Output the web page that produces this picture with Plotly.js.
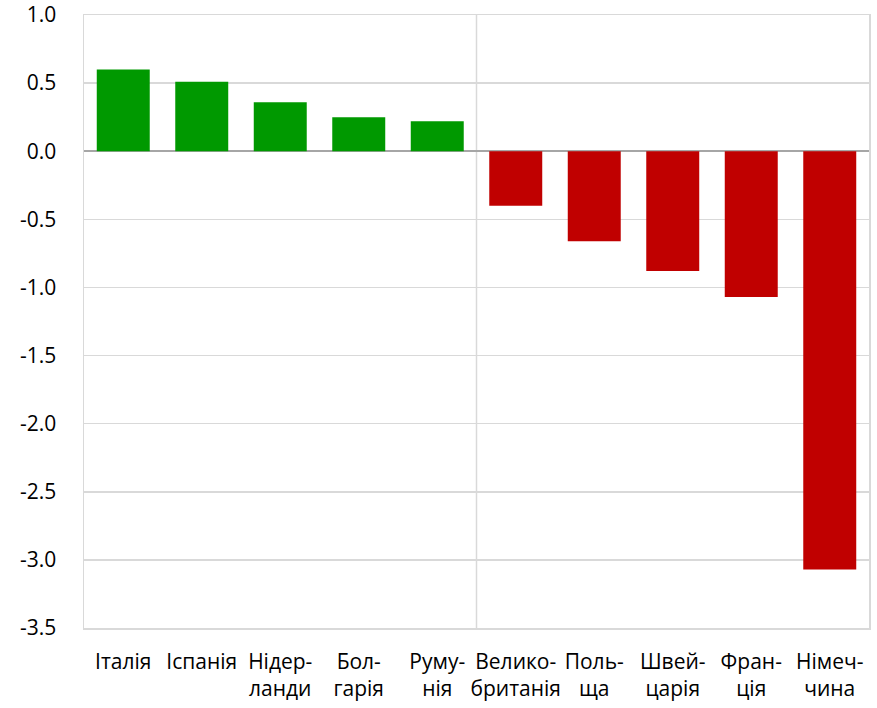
<!DOCTYPE html>
<html>
<head>
<meta charset="utf-8">
<script src="https://cdn.plot.ly/plotly-3.0.1.min.js"></script>
<style>html,body{margin:0;padding:0;background:#fff;}#chart{width:877px;height:708px;}</style>
</head>
<body>
<div id="chart"></div>
<script>
const categories = ["Італія","Іспанія","Нідер-<br>ланди","Бол-<br>гарія","Руму-<br>нія","Велико-<br>британія","Поль-<br>ща","Швей-<br>царія","Фран-<br>ція","Німеч-<br>чина"];
const values = [0.60, 0.51, 0.36, 0.25, 0.22, -0.40, -0.66, -0.88, -1.07, -3.07];
const yTickValues = [1.0, 0.5, 0.0, -0.5, -1.0, -1.5, -2.0, -2.5, -3.0, -3.5];
const yTickLabels = ["1.0", "0.5", "0.0", "-0.5", "-1.0", "-1.5", "-2.0", "-2.5", "-3.0", "-3.5"];
const positiveColor = "#009900";
const negativeColor = "#c00000";

const colors = values.map(v => v >= 0 ? positiveColor : negativeColor);
const fontFam = "'Open Sans', sans-serif";

const trace = {
  type: "bar",
  x: categories,
  y: values,
  marker: {color: colors, line: {width: 0}},
  hoverinfo: "skip"
};

const layout = {
  width: 877, height: 708,
  margin: {l: 84, r: 8, t: 15, b: 80},
  paper_bgcolor: "#fff", plot_bgcolor: "#fff",
  bargap: 0.325,
  showlegend: false,
  font: {family: fontFam, color: "#000"},
  xaxis: {
    type: "category",
    showgrid: false,
    showline: true, linecolor: "#d9d9d9", linewidth: 1.5, mirror: true,
    ticks: "", tickfont: {size: 21, family: fontFam, color: "#000"},
    ticklabelstandoff: 14
  },
  yaxis: {
    range: [-3.5, 1.0],
    tickmode: "array", tickvals: yTickValues, ticktext: yTickLabels,
    ticklabeloverflow: "allow",
    showgrid: true, gridcolor: "#d9d9d9", gridwidth: 1.5,
    zeroline: true, zerolinecolor: "#a6a6a6", zerolinewidth: 2,
    showline: true, linecolor: "#d9d9d9", linewidth: 1.5, mirror: true,
    ticks: "", tickfont: {size: 21, family: fontFam, color: "#000"},
    ticklabelstandoff: 22
  },
  shapes: [{
    type: "line", xref: "x", yref: "paper",
    x0: 4.5, x1: 4.5, y0: 0, y1: 1,
    line: {color: "#d9d9d9", width: 1.5},
    layer: "below"
  }]
};

Plotly.newPlot("chart", [trace], layout, {staticPlot: true});
</script>
</body>
</html>
